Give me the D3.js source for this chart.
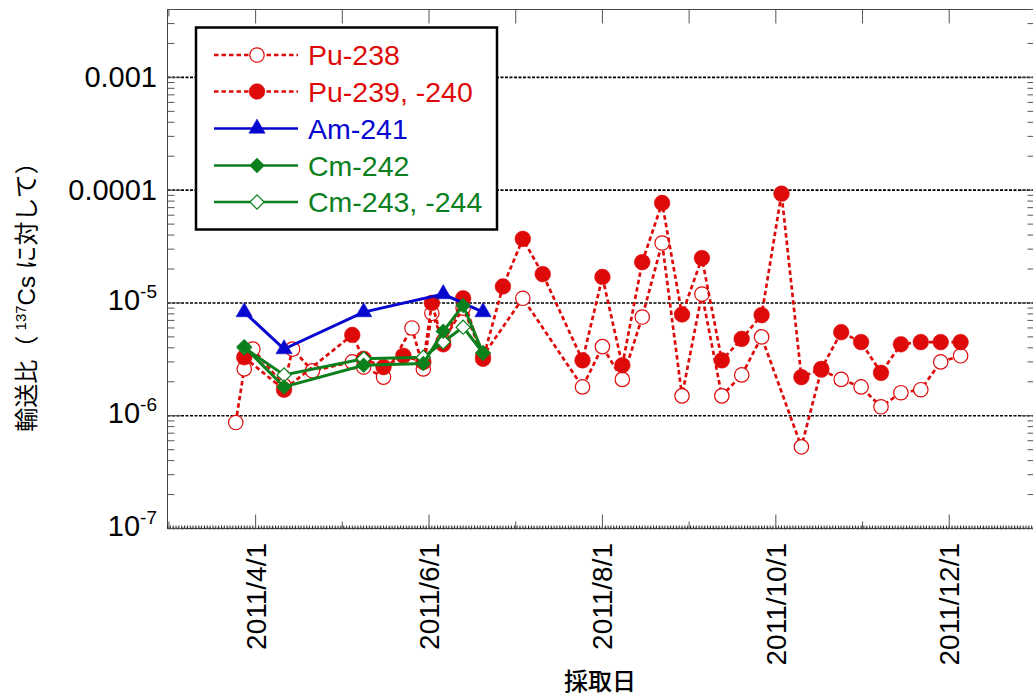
<!DOCTYPE html>
<html>
<head>
<meta charset="utf-8">
<script src="https://cdn.jsdelivr.net/npm/d3@7"></script>
<style>
    body { margin: 0; background: #fff; }
    text { font-family: "Liberation Sans", Arial, sans-serif; }
    .jp { font-family: "Noto Sans CJK JP", "Noto Sans", sans-serif; }
</style>
</head>
<body>
<div id="chart"></div>
<script>
// sampling dates + ratios to 137Cs
const pu238Dates = ['2011/3/25','2011/3/28','2011/3/31','2011/4/11','2011/4/14','2011/4/21','2011/5/5','2011/5/9','2011/5/16','2011/5/26','2011/5/30','2011/6/2','2011/6/6','2011/6/13','2011/6/20','2011/7/4','2011/7/25','2011/8/1','2011/8/8','2011/8/15','2011/8/22','2011/8/29','2011/9/5','2011/9/12','2011/9/19','2011/9/26','2011/10/10','2011/10/17','2011/10/24','2011/10/31','2011/11/7','2011/11/14','2011/11/21','2011/11/28','2011/12/5'];
const pu238Values = [8.7e-7, 2.6e-6, 3.9e-6, 1.85e-6, 3.9e-6, 2.5e-6, 3.0e-6, 2.7e-6, 2.2e-6, 6.0e-6, 2.6e-6, 8.1e-6, 4.6e-6, 9.0e-6, 3.4e-6, 1.1e-5, 1.8e-6, 4.1e-6, 2.1e-6, 7.5e-6, 3.4e-5, 1.5e-6, 1.2e-5, 1.5e-6, 2.3e-6, 5.0e-6, 5.3e-7, 2.55e-6, 2.1e-6, 1.8e-6, 1.2e-6, 1.6e-6, 1.7e-6, 3.0e-6, 3.4e-6];

const pu239Dates = ['2011/3/28','2011/4/11','2011/5/5','2011/5/9','2011/5/16','2011/5/23','2011/5/30','2011/6/2','2011/6/6','2011/6/13','2011/6/20','2011/6/27','2011/7/4','2011/7/11','2011/7/25','2011/8/1','2011/8/8','2011/8/15','2011/8/22','2011/8/29','2011/9/5','2011/9/12','2011/9/19','2011/9/26','2011/10/3','2011/10/10','2011/10/17','2011/10/24','2011/10/31','2011/11/7','2011/11/14','2011/11/21','2011/11/28','2011/12/5'];
const pu239Values = [3.3e-6, 1.7e-6, 5.2e-6, 3.2e-6, 2.7e-6, 3.4e-6, 3.0e-6, 1.0e-5, 4.3e-6, 1.1e-5, 3.2e-6, 1.4e-5, 3.7e-5, 1.8e-5, 3.1e-6, 1.7e-5, 2.8e-6, 2.3e-5, 7.7e-5, 7.9e-6, 2.5e-5, 3.1e-6, 4.8e-6, 7.8e-6, 9.3e-5, 2.2e-6, 2.6e-6, 5.5e-6, 4.5e-6, 2.4e-6, 4.3e-6, 4.5e-6, 4.5e-6, 4.5e-6];

const am241Dates = ['2011/3/28','2011/4/11','2011/5/9','2011/6/6','2011/6/20'];
const am241Values = [8.3e-6, 3.9e-6, 8.3e-6, 1.2e-5, 8.3e-6];

const cmDates = ['2011/3/28','2011/4/11','2011/5/9','2011/5/30','2011/6/6','2011/6/13','2011/6/20'];
const cm242Values = [4.1e-6, 1.8e-6, 2.8e-6, 2.9e-6, 5.6e-6, 9.5e-6, 3.6e-6];
const cm243Values = [4.0e-6, 2.3e-6, 3.2e-6, 3.3e-6, 4.5e-6, 6.1e-6, 3.6e-6];

const seriesNames = ['Pu-238', 'Pu-239, -240', 'Am-241', 'Cm-242', 'Cm-243, -244'];

const xTickLabels = ['2011/4/1', '2011/6/1', '2011/8/1', '2011/10/1', '2011/12/1'];
const yTickValues = [1e-7, 1e-6, 1e-5, 1e-4, 1e-3];
const yTickLabels = ['10^-7', '10^-6', '10^-5', '0.0001', '0.001'];

const RED = '#de0a0a', BLUE = '#0707cf', GREEN = '#0b801c';

const svgWidth = 1033, svgHeight = 699;
const plotLeft = 167.5, plotRight = 1034.5, plotTop = 9.5, plotBottom = 528.5;

const parseDate = d3.timeParse('%Y/%m/%d');

let xScale = d3.scaleTime()
    .domain([parseDate('2011/3/1'), parseDate('2011/12/31')])
    .range([plotLeft, plotRight]);
let yScale = d3.scaleLog()
    .domain([1e-7, 4e-3])
    .range([plotBottom, plotTop]);

const svg = d3.select('#chart')
    .append('svg')
    .attr('width', svgWidth)
    .attr('height', svgHeight);

// gridlines at each decade
svg.append('g').selectAll('line')
    .data(yTickValues)
    .enter().append('line')
    .attr('x1', plotLeft).attr('x2', plotRight)
    .attr('y1', d => yScale(d)).attr('y2', d => yScale(d))
    .attr('stroke', '#000')
    .attr('stroke-width', 1.6)
    .attr('stroke-dasharray', '3,1.5');

// frame
const frame = svg.append('g').attr('stroke', '#444').attr('stroke-width', 1);
frame.append('line').attr('x1', plotLeft).attr('x2', plotLeft).attr('y1', plotTop).attr('y2', plotBottom);
frame.append('line').attr('x1', plotLeft).attr('x2', plotRight).attr('y1', plotTop).attr('y2', plotTop);
frame.append('line').attr('x1', plotLeft).attr('x2', plotRight).attr('y1', plotBottom).attr('y2', plotBottom);
frame.append('line').attr('x1', plotRight).attr('x2', plotRight).attr('y1', plotTop).attr('y2', plotBottom);

// y minor ticks on both sides
let yMinor = [];
yTickValues.forEach(d => {
    for (let k = 2; k <= 9; k++) {
        if (k * d <= yScale.domain()[1]) yMinor.push(k * d);
    }
});
const yTicks = svg.append('g').attr('stroke', '#555').attr('stroke-width', 1);
yMinor.forEach(v => {
    yTicks.append('line').attr('x1', plotLeft).attr('x2', plotLeft + 7).attr('y1', yScale(v)).attr('y2', yScale(v));
    yTicks.append('line').attr('x1', plotRight - 7).attr('x2', plotRight).attr('y1', yScale(v)).attr('y2', yScale(v));
});
yTickValues.forEach(v => {
    yTicks.append('line').attr('x1', plotLeft).attr('x2', plotLeft + 14).attr('y1', yScale(v)).attr('y2', yScale(v));
    yTicks.append('line').attr('x1', plotRight - 14).attr('x2', plotRight).attr('y1', yScale(v)).attr('y2', yScale(v));
});

// x ticks: daily ticks along bottom, long ticks on labels, short ones half way
const xMajor = xTickLabels.map(parseDate);
let xMinor = [new Date(+xMajor[0] - (xMajor[1] - xMajor[0]) / 2)];
xMajor.forEach((d, i) => {
    if (i < xMajor.length - 1) xMinor.push(new Date((+d + +xMajor[i + 1]) / 2));
});
const xTicks = svg.append('g').attr('stroke', '#555').attr('stroke-width', 1);
d3.timeDay.range(xScale.domain()[0], xScale.domain()[1]).forEach(d => {
    xTicks.append('line').attr('x1', xScale(d)).attr('x2', xScale(d))
        .attr('y1', plotBottom).attr('y2', plotBottom - 3).attr('stroke', '#222');
});
xMajor.forEach(d => {
    xTicks.append('line').attr('x1', xScale(d)).attr('x2', xScale(d)).attr('y1', plotBottom).attr('y2', plotBottom - 14);
    xTicks.append('line').attr('x1', xScale(d)).attr('x2', xScale(d)).attr('y1', plotTop).attr('y2', plotTop + 14);
});
xMinor.forEach((d, i) => {
    xTicks.append('line').attr('x1', xScale(d)).attr('x2', xScale(d)).attr('y1', plotBottom).attr('y2', plotBottom - 7);
    xTicks.append('line').attr('x1', xScale(d)).attr('x2', xScale(d)).attr('y1', plotTop).attr('y2', plotTop + (i == 0 ? 7 : 14));
});

// tick labels
const yLabelG = svg.append('g');
yTickValues.forEach((v, i) => {
    const parts = yTickLabels[i].split('^');
    const t = yLabelG.append('text')
        .attr('x', 157)
        .attr('y', yScale(v) + (parts.length > 1 ? 7 : 10))
        .attr('text-anchor', 'end')
        .attr('font-size', 29)
        .attr('fill', '#000');
    t.append('tspan').text(parts[0]);
    if (parts.length > 1) {
        t.append('tspan').attr('dy', -12).attr('font-size', 19).text(parts[1]);
    }
});

svg.append('g').selectAll('text')
    .data(xMajor)
    .enter().append('text')
    .attr('transform', (d) => `translate(${xScale(d) + 10},543) rotate(-90)`)
    .attr('text-anchor', 'end')
    .attr('font-size', 28)
    .attr('fill', '#000')
    .text((d, i) => xTickLabels[i]);

// axis titles
const yTitle = svg.append('text')
    .attr('transform', 'translate(35,291) rotate(-90)')
    .attr('text-anchor', 'middle')
    .attr('font-size', 24)
    .attr('fill', '#000');
yTitle.append('tspan').attr('class', 'jp').text('輸送比（ ');
yTitle.append('tspan').attr('font-size', 15).attr('dy', -9).text('137');
yTitle.append('tspan').attr('dy', 9).text('Cs ');
yTitle.append('tspan').attr('class', 'jp').text('に対して）');

svg.append('text')
    .attr('class', 'jp')
    .attr('x', 600)
    .attr('y', 690)
    .attr('text-anchor', 'middle')
    .attr('font-size', 24)
    .attr('font-weight', 500)
    .attr('fill', '#000')
    .text('採取日');

// series
const makeData = (dates, values) => dates.map((d, i) => ({date: parseDate(d), value: values[i]}));

const series = [
    {name: seriesNames[0], data: makeData(pu238Dates, pu238Values), color: RED, dash: '4.5,3', width: 2.7,
     symbol: d3.symbolCircle, size: Math.PI * 52, fill: '#fff', rotate: 0},
    {name: seriesNames[1], data: makeData(pu239Dates, pu239Values), color: RED, dash: '4.5,3', width: 2.7,
     symbol: d3.symbolCircle, size: Math.PI * 62, fill: RED, rotate: 0},
    {name: seriesNames[2], data: makeData(am241Dates, am241Values), color: BLUE, dash: null, width: 3,
     symbol: d3.symbolTriangle, size: 115, fill: BLUE, rotate: 0},
    {name: seriesNames[4], data: makeData(cmDates, cm243Values), color: GREEN, dash: null, width: 3,
     symbol: d3.symbolSquare, size: 100, fill: '#fff', rotate: 45},
    {name: seriesNames[3], data: makeData(cmDates, cm242Values), color: GREEN, dash: null, width: 3,
     symbol: d3.symbolSquare, size: 112, fill: GREEN, rotate: 45}
];

const line = d3.line()
    .x(d => xScale(d.date))
    .y(d => yScale(d.value));

const plotG = svg.append('g').attr('id', 'plot');
series.forEach(s => {
    const g = plotG.append('g');
    g.append('path')
        .datum(s.data)
        .attr('d', line)
        .attr('fill', 'none')
        .attr('stroke', s.color)
        .attr('stroke-width', s.width)
        .attr('stroke-dasharray', s.dash);
    g.selectAll('path.marker')
        .data(s.data)
        .enter().append('path')
        .classed('marker', true)
        .attr('d', d3.symbol().type(s.symbol).size(s.size))
        .attr('transform', d => `translate(${xScale(d.date)},${yScale(d.value)}) rotate(${s.rotate})`)
        .attr('fill', s.fill)
        .attr('stroke', s.color)
        .attr('stroke-width', s.fill == '#fff' ? 1.2 : 0.5);
});

// legend
const legendOrder = [0, 1, 2, 4, 3];
const legendY = [55, 91.5, 128.5, 165.5, 202];
const legend = svg.append('g');
legend.append('rect')
    .attr('x', 196).attr('y', 27.5)
    .attr('width', 301).attr('height', 202)
    .attr('fill', '#fff')
    .attr('stroke', '#000')
    .attr('stroke-width', 2.5);
legendOrder.forEach((si, i) => {
    const s = series[si];
    const y = legendY[i];
    legend.append('line')
        .attr('x1', 214).attr('x2', 298)
        .attr('y1', y).attr('y2', y)
        .attr('stroke', s.color)
        .attr('stroke-width', 2.6)
        .attr('stroke-dasharray', s.dash);
    legend.append('path')
        .attr('d', d3.symbol().type(s.symbol).size(s.size))
        .attr('transform', `translate(257,${y}) rotate(${s.rotate})`)
        .attr('fill', s.fill)
        .attr('stroke', s.color)
        .attr('stroke-width', s.fill == '#fff' ? 1.2 : 0.5);
    legend.append('text')
        .attr('x', 308)
        .attr('y', y + 10)
        .attr('font-size', 28.5)
        .attr('fill', s.color)
        .text(s.name);
});
</script>
</body>
</html>
